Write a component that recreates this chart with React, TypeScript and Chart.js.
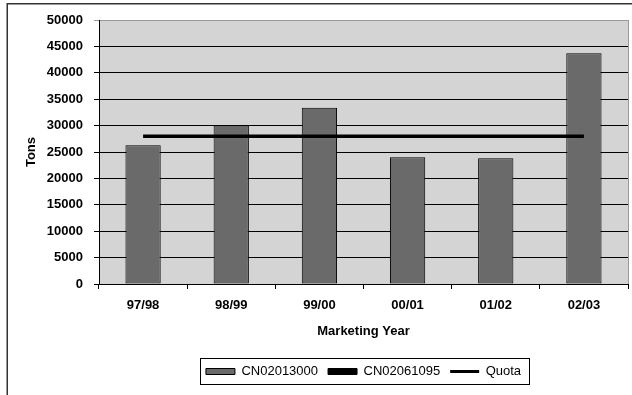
import { useEffect, useRef } from "react";
import { Chart, registerables } from "chart.js";

Chart.register(...registerables);

const categories = ["97/98", "98/99", "99/00", "00/01", "01/02", "02/03"];
const cn02013000 = [26300, 30000, 33400, 24000, 23800, 43700];
const cn02061095: (number | null)[] = [null, null, null, null, null, null];
const quota = [28000, 28000, 28000, 28000, 28000, 28000];
const yMin = 0;
const yMax = 50000;
const yStep = 5000;

const FONT = "'Liberation Sans', Arial, sans-serif";
const PLOT_BG = "#d4d4d4";
const BAR_FILL = "#6a6a6a";

const decorPlugin = {
  id: "decor",
  beforeDraw(chart: any) {
    const { ctx, chartArea: a } = chart;
    ctx.save();
    ctx.fillStyle = "#ffffff";
    ctx.fillRect(0, 0, chart.width, chart.height);
    ctx.fillStyle = PLOT_BG;
    ctx.fillRect(a.left, a.top, a.right - a.left, a.bottom - a.top);
    ctx.restore();
  },
  afterDraw(chart: any) {
    const { ctx, chartArea: a } = chart;
    ctx.save();
    // plot area right border
    ctx.strokeStyle = "#999999";
    ctx.lineWidth = 1;
    ctx.beginPath();
    ctx.moveTo(Math.round(a.right) + 0.5, a.top);
    ctx.lineTo(Math.round(a.right) + 0.5, a.bottom);
    ctx.stroke();
    // outer frame (top and left visible)
    ctx.fillStyle = "#333333";
    ctx.fillRect(7, 3, chart.width - 7, 1.5);
    ctx.fillRect(6.5, 3, 1.5, chart.height - 3);
    // legend border
    const lg = chart.legend;
    if (lg && lg.legendHitBoxes && lg.legendHitBoxes.length) {
      const boxes = lg.legendHitBoxes;
      let l = Infinity, r = -Infinity, t = Infinity, b = -Infinity;
      for (const h of boxes) {
        l = Math.min(l, h.left);
        r = Math.max(r, h.left + h.width);
        t = Math.min(t, h.top);
        b = Math.max(b, h.top + h.height);
      }
      ctx.strokeStyle = "#000000";
      ctx.lineWidth = 1;
      ctx.strokeRect(Math.round(l - 6) + 0.5, Math.round(t - 7) + 0.5, Math.round(r - l + 14), Math.round(b - t + 13));
    }
    ctx.restore();
  },
};

export default function App() {
  const ref = useRef<HTMLCanvasElement | null>(null);

  useEffect(() => {
    document.body.style.margin = "0";
    const canvas = ref.current;
    if (!canvas) return;
    const chart = new Chart(canvas, {
      type: "bar",
      data: {
        labels: categories,
        datasets: [
          {
            type: "bar",
            label: "CN02013000",
            data: cn02013000,
            backgroundColor: BAR_FILL,
            borderColor: "#000000",
            borderWidth: 1,
            borderSkipped: false,
            grouped: false,
            barPercentage: 0.4,
            categoryPercentage: 1,
            order: 2,
          } as any,
          {
            type: "bar",
            label: "CN02061095",
            data: cn02061095,
            backgroundColor: "#000000",
            borderColor: "#000000",
            borderWidth: 1,
            grouped: false,
            barPercentage: 0.4,
            categoryPercentage: 1,
            order: 3,
          } as any,
          {
            type: "line",
            label: "Quota",
            data: quota,
            borderColor: "#000000",
            backgroundColor: "#000000",
            borderWidth: 3.5,
            pointRadius: 0,
            pointHoverRadius: 0,
            fill: false,
            tension: 0,
            order: 1,
          } as any,
        ],
      },
      options: {
        responsive: false,
        animation: false,
        events: [],
        layout: { padding: { top: 20, right: 4, left: 0, bottom: 7 } },
        plugins: {
          tooltip: { enabled: false },
          legend: {
            position: "bottom",
            fullSize: false,
            labels: {
              usePointStyle: true,
              pointStyleWidth: 29,
              boxHeight: 6,
              padding: 10,
              color: "#000000",
              font: { family: FONT, size: 13 },
              generateLabels: () => [
                {
                  text: "CN02013000",
                  fillStyle: BAR_FILL,
                  strokeStyle: "#000000",
                  lineWidth: 1,
                  pointStyle: "rect",
                  datasetIndex: 0,
                  hidden: false,
                  fontColor: "#000000",
                },
                {
                  text: "CN02061095",
                  fillStyle: "#000000",
                  strokeStyle: "#000000",
                  lineWidth: 1,
                  pointStyle: "rect",
                  datasetIndex: 1,
                  hidden: false,
                  fontColor: "#000000",
                },
                {
                  text: "Quota",
                  fillStyle: "#000000",
                  strokeStyle: "#000000",
                  lineWidth: 3,
                  pointStyle: "line",
                  datasetIndex: 2,
                  hidden: false,
                  fontColor: "#000000",
                },
              ] as any,
            },
          },
        },
        scales: {
          x: {
            type: "category",
            offset: true,
            grid: {
              offset: true,
              drawOnChartArea: false,
              drawTicks: true,
              tickLength: 5,
              color: "#000000",
            },
            border: { color: "#000000", width: 1 },
            ticks: {
              color: "#000000",
              padding: 9,
              font: { family: FONT, size: 13, weight: "bold" },
              maxRotation: 0,
            },
            title: {
              display: true,
              text: "Marketing Year",
              color: "#000000",
              font: { family: FONT, size: 13, weight: "bold" },
              padding: { top: 0, bottom: 16 },
            },
            afterFit: (scale: any) => {
              scale.height = 71;
            },
          },
          y: {
            min: yMin,
            max: yMax,
            grid: {
              drawTicks: true,
              tickLength: 5,
              color: (c: any) => (c.tick && c.tick.value === yMax ? "#999999" : "#000000"),
            },
            border: { color: "#000000", width: 1 },
            ticks: {
              stepSize: yStep,
              color: "#000000",
              padding: 11,
              font: { family: FONT, size: 13, weight: "bold" },
              callback: (v: any) => String(v),
            },
            title: {
              display: true,
              text: "Tons",
              color: "#000000",
              font: { family: FONT, size: 13, weight: "bold" },
              padding: { top: 24, bottom: 0 },
            },
            afterFit: (scale: any) => {
              scale.width = 99;
            },
          },
        },
      },
      plugins: [decorPlugin],
    });
    return () => chart.destroy();
  }, []);

  return (
    <div style={{ width: 632, height: 395 }}>
      <canvas ref={ref} width={632} height={395} style={{ display: "block" }} />
    </div>
  );
}
